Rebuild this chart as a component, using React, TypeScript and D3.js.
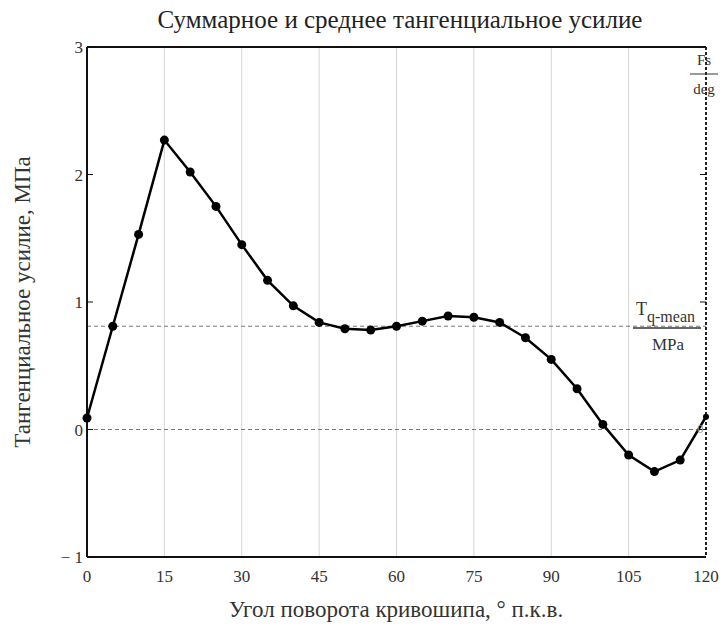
import React from "react";
import * as d3 from "d3";

// Crank angle, degrees
const angles = [0, 5, 10, 15, 20, 25, 30, 35, 40, 45, 50, 55, 60, 65, 70, 75, 80, 85, 90, 95, 100, 105, 110, 115, 120];
// Total tangential force, MPa
const torque = [0.09, 0.81, 1.53, 2.27, 2.02, 1.75, 1.45, 1.17, 0.97, 0.84, 0.79, 0.78, 0.81, 0.85, 0.89, 0.88, 0.84, 0.72, 0.55, 0.32, 0.04, -0.2, -0.33, -0.24, 0.1];
// Mean tangential force, MPa
const meanTorque = 0.81;
const xTicks = [0, 15, 30, 45, 60, 75, 90, 105, 120];
const yTicks = [-1, 0, 1, 2, 3];

const W = 726;
const H = 632;
const left = 87;
const right = 706;
const top = 47;
const bottom = 557;
const font = "'Liberation Serif', 'Times New Roman', serif";

export default function App() {
  const x = d3.scaleLinear().domain([0, 120]).range([left, right]);
  const y = d3.scaleLinear().domain([-1, 3]).range([bottom, top]);
  const pts = angles.map((a, i) => [a, torque[i]] as [number, number]);
  const line = d3
    .line<[number, number]>()
    .x((d) => x(d[0]))
    .y((d) => y(d[1]));

  return (
    <svg
      width={W}
      height={H}
      style={{ position: "absolute", left: 0, top: 0, background: "#fff" }}
      fontFamily={font}
    >
      <rect width={W} height={H} fill="#fff" />
      <text x={400} y={28} textAnchor="middle" fontSize={25} fill="#222">
        Суммарное и среднее тангенциальное усилие
      </text>

      {/* vertical grid */}
      {xTicks.slice(1, -1).map((t) => (
        <line key={t} x1={x(t)} x2={x(t)} y1={top} y2={bottom} stroke="#d4d4d4" strokeWidth={1} />
      ))}

      {/* reference lines */}
      <line x1={left} x2={right} y1={y(meanTorque)} y2={y(meanTorque)} stroke="#777" strokeWidth={1} strokeDasharray="4,3" />
      <line x1={left} x2={right} y1={y(0)} y2={y(0)} stroke="#777" strokeWidth={1} strokeDasharray="4,3" />

      {/* frame */}
      <line x1={left} x2={right} y1={top} y2={top} stroke="#111" strokeWidth={2} />
      <line x1={left} x2={right} y1={bottom} y2={bottom} stroke="#111" strokeWidth={2} />
      <line x1={left} x2={left} y1={top} y2={bottom} stroke="#111" strokeWidth={2} />
      <line x1={right} x2={right} y1={top} y2={bottom} stroke="#222" strokeWidth={2} strokeDasharray="3,2" />

      {/* y ticks */}
      {yTicks.map((t) => (
        <g key={t}>
          <line x1={left} x2={left + 6} y1={y(t)} y2={y(t)} stroke="#111" strokeWidth={1} />
          <line x1={right - 6} x2={right} y1={y(t)} y2={y(t)} stroke="#111" strokeWidth={1} />
          <text x={left - 4} y={y(t) + 6} textAnchor="end" fontSize={17} fill="#333">
            {t < 0 ? `− ${Math.abs(t)}` : t}
          </text>
        </g>
      ))}

      {/* x tick labels */}
      {xTicks.map((t) => (
        <text key={t} x={x(t)} y={bottom + 25} textAnchor="middle" fontSize={17} fill="#333">
          {t}
        </text>
      ))}

      {/* series */}
      <path d={line(pts) ?? ""} fill="none" stroke="#000" strokeWidth={2.5} />
      {pts.map((p, i) => (
        <circle key={i} cx={x(p[0])} cy={y(p[1])} r={i === pts.length - 1 ? 3 : 4.5} fill="#000" />
      ))}

      {/* trace annotations */}
      <text x={right - 2} y={65} textAnchor="middle" fontSize={15} fill="#333">Fs</text>
      <line x1={right - 16} x2={right + 12} y1={74} y2={74} stroke="#333" strokeWidth={1} />
      <text x={right - 2} y={94} textAnchor="middle" fontSize={15} fill="#333">deg</text>

      <text x={636} y={315} fontSize={18} fill="#333">T</text>
      <text x={647} y={322} fontSize={16} fill="#333">q-mean</text>
      <line x1={633} x2={701} y1={328} y2={328} stroke="#333" strokeWidth={1.5} />
      <text x={668} y={350} textAnchor="middle" fontSize={17} fill="#333">MPa</text>
      <text x={697} y={433} fontSize={13} fill="#999">0</text>

      {/* axis titles */}
      <text x={396} y={617} textAnchor="middle" fontSize={23} fill="#333">
        Угол поворота кривошипа, ° п.к.в.
      </text>
      <text
        transform={`translate(30, ${(top + bottom) / 2}) rotate(-90)`}
        textAnchor="middle"
        fontSize={23}
        fill="#333"
      >
        Тангенциальное усилие, МПа
      </text>
    </svg>
  );
}
